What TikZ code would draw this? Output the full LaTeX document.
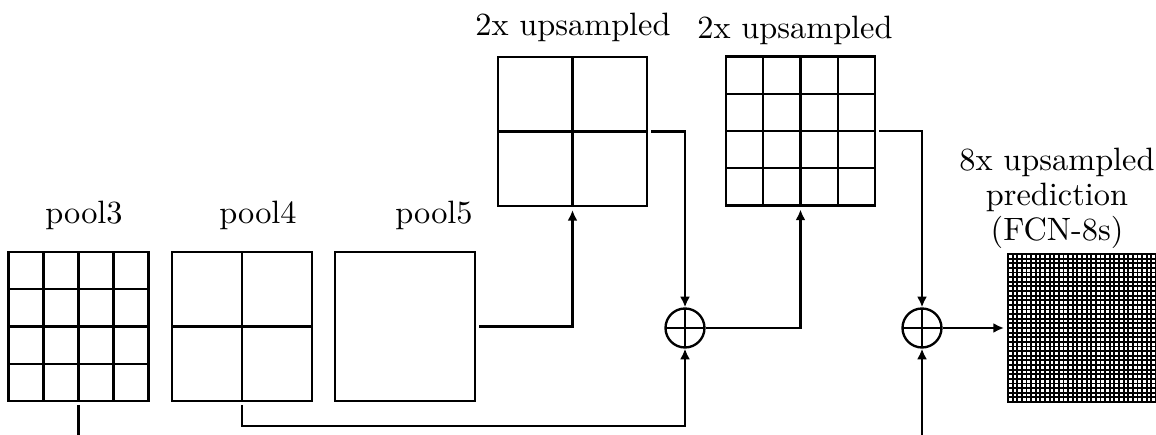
\documentclass[tikz,border=0pt]{standalone}
\usetikzlibrary{
  arrows.meta,
  calc
}
\tikzset{
  % For feature maps.
  fmap/.style={
    draw,
    line width=0.7pt,
    minimum width=44.7pt,
    minimum height=44.7pt,
    inner sep=0pt,
    outer sep=1.2pt},
%
  % Grid of n x n cells inside a feature map.
  cell line/.style={
    line width=0.7pt},
  cells/.style={
    path picture={
      \foreach \k in {1,...,#1}{
        \draw[cell line]
          ($(path picture bounding box.south west)!\k/#1!(path picture bounding box.south east)$)
          -- ($(path picture bounding box.north west)!\k/#1!(path picture bounding box.north east)$);
        \draw[cell line]
          ($(path picture bounding box.south west)!\k/#1!(path picture bounding box.north west)$)
          -- ($(path picture bounding box.south east)!\k/#1!(path picture bounding box.north east)$);
      }}},
%
  % For element-wise sums.
  sum/.style={
    draw,
    circle,
    line width=0.7pt,
    minimum size=11.7pt,
    inner sep=0pt,
    path picture={
      \draw[line width=0.6pt]
        (path picture bounding box.west) -- (path picture bounding box.east)
        (path picture bounding box.north) -- (path picture bounding box.south);
    }},
%
  % For connectors.
  flow/.style={
    line width=0.65pt,
    -{Latex[length=3.2pt,width=3pt]}},
  plain flow/.style={
    line width=0.65pt},
%
  % For captions.
  caption/.style={
    font=\fontsize{9.7}{10.5}\selectfont,
    align=center,
    inner sep=0pt},
}

\begin{document}
\begin{tikzpicture}[x=0.3pt, y=-0.3pt]
  \useasboundingbox (0,0) rectangle (1156,435);

  \node[fmap, minimum width=42pt, cells=4] (pool3) at (78.5,326.5) {};
  \node[fmap, minimum width=42pt, cells=2] (pool4) at (242,326.5) {};
  \node[fmap, minimum width=42pt] (pool5) at (405,326.5) {};
  \node[fmap, cells=2] (up2x a) at (572.5,131.5) {};
  \node[fmap, cells=4] (up2x b) at (800.5,131) {};
  \node[fmap, minimum width=44.4pt, minimum height=44.4pt,
        cell line/.style={line width=0.55pt}, cells=32] (pred) at (1082,328) {};

  \node[sum] (sum a) at (685,328) {};
  \node[sum] (sum b) at (922,328) {};

  \node[caption] (pool3 label) at (84,215) {pool3};
  \node[caption] (pool4 label) at (258,215) {pool4};
  \node[caption] (pool5 label) at (434,215) {pool5};
  \node[caption] (up2x a label) at (573,27) {2x upsampled};
  \node[caption] (up2x b label) at (795,30) {2x upsampled};
  \node[caption] (pred label) at (1057,198)
    {8x upsampled\\prediction\\(FCN-8s)};

  \coordinate (pool3 out) at (pool3.south |- 0,435);
  \coordinate (skip in) at (sum b.south |- 0,435);

  \draw[plain flow] (pool3.south) -- (pool3 out);
  \draw[flow] (pool4.south) -- ++(0,21) -| (sum a.south);
  \draw[flow] (pool5.east) -| (up2x a.south);
  \draw[flow] (up2x a.east) -| (sum a.north);
  \draw[flow] (sum a.east) -| (up2x b.south);
  \draw[flow] (up2x b.east) -| (sum b.north);
  \draw[flow] (skip in) -- (sum b.south);
  \draw[flow] (sum b.east) -- (pred.west);
\end{tikzpicture}
\end{document}
